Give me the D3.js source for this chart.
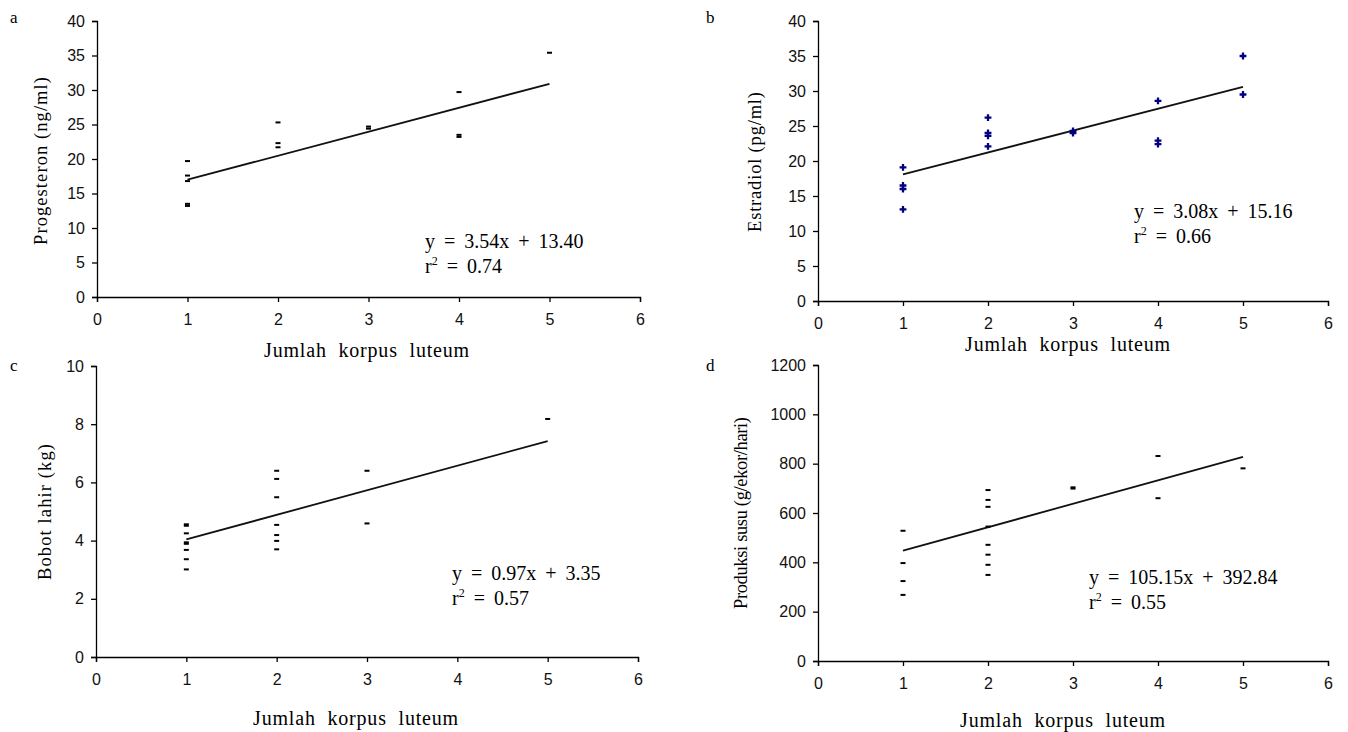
<!DOCTYPE html>
<html>
<head>
<meta charset="utf-8">
<script src="https://cdn.jsdelivr.net/npm/d3@7"></script>
<style>
  body { margin: 0; background: #fff; }
  svg text { font-family: "Liberation Serif", "Times New Roman", serif; fill: #000; }
  .tick-label { font-family: "Liberation Sans", sans-serif; font-size: 16px; fill: #111; }
</style>
</head>
<body>
<div id="chart"></div>
<script>
// x axis is shared by all four panels
const korpusTicks = [0, 1, 2, 3, 4, 5, 6];

// a: progesteron (ng/ml)
const progX = [1, 1, 1, 1, 1, 2, 2, 2, 3, 3, 4, 4, 4, 5];
const progY = [19.7, 17.6, 16.8, 13.2, 13.5, 25.3, 22.3, 21.7, 24.4, 24.7, 29.7, 23.2, 23.5, 35.4];
const progTicks = [0, 5, 10, 15, 20, 25, 30, 35, 40];

// b: estradiol (pg/ml)
const estrX = [1, 1, 1, 1, 2, 2, 2, 2, 3, 3, 4, 4, 4, 5, 5];
const estrY = [19.1, 16.5, 16.0, 13.1, 26.2, 24.0, 23.6, 22.1, 24.3, 24.0, 28.6, 22.9, 22.4, 35.0, 29.5];
const estrTicks = [0, 5, 10, 15, 20, 25, 30, 35, 40];

// c: bobot lahir (kg)
const bobotX = [1, 1, 1, 1, 1, 1, 1, 1, 2, 2, 2, 2, 2, 2, 2, 3, 3, 5];
const bobotY = [4.56, 4.51, 4.25, 3.94, 3.89, 3.68, 3.36, 3.01, 6.40, 6.12, 5.49, 4.54, 4.19, 3.99, 3.70, 6.40, 4.59, 8.18];
const bobotTicks = [0, 2, 4, 6, 8, 10];

// d: produksi susu (g/ekor/hari)
const susuX = [1, 1, 1, 1, 2, 2, 2, 2, 2, 2, 2, 2, 3, 3, 4, 4, 5];
const susuY = [528, 397, 324, 268, 693, 653, 625, 545, 471, 431, 390, 349, 704, 699, 831, 660, 781];
const susuTicks = [0, 200, 400, 600, 800, 1000, 1200];

// trend line ends (at 1 and 5 corpora lutea) as drawn in the figure
const trendAt1 = [17.0, 18.1, 4.04, 447];
const trendAt5 = [30.9, 30.6, 7.42, 828];

// regression equations printed on the figure
const eqTexts = ["y = 3.54x + 13.40", "y = 3.08x + 15.16", "y = 0.97x + 3.35", "y = 105.15x + 392.84"];
const r2Texts = ["0.74", "0.66", "0.57", "0.55"];

const panelLetters = ["a", "b", "c", "d"];
const yTitles = ["Progesteron (ng/ml)", "Estradiol (pg/ml)", "Bobot lahir (kg)", "Produksi susu (g/ekor/hari)"];
const xTitle = "Jumlah korpus luteum";

const width = 1348, height = 732;
const svg = d3.select("#chart").append("svg")
    .attr("width", width)
    .attr("height", height);

// layout of each panel
const panels = [
  { xs: progX, ys: progY, ticks: progTicks, box: [97, 640, 21, 297], letter: [10, 23],
    ytitle: [47, 161, 168], xtitle: [367, 357], eq: [425, 248], marker: "dash" },
  { xs: estrX, ys: estrY, ticks: estrTicks, box: [818, 1328, 21, 301], letter: [706, 23],
    ytitle: [761, 162, 140], xtitle: [1068, 351], eq: [1134, 218], marker: "cross" },
  { xs: bobotX, ys: bobotY, ticks: bobotTicks, box: [96, 638, 366, 657], letter: [10, 371],
    ytitle: [51, 512, 136], xtitle: [356, 725], eq: [452, 580], marker: "dash" },
  { xs: susuX, ys: susuY, ticks: susuTicks, box: [818, 1328, 365, 661], letter: [706, 371],
    ytitle: [747, 513, 192], xtitle: [1063, 727], eq: [1089, 584], marker: "dash" }
];

panels.forEach((p, i) => {
  const [left, right, top, bottom] = p.box;
  const g = svg.append("g");

  const x = d3.scaleLinear().domain([0, 6]).range([left, right]);
  const y = d3.scaleLinear().domain([0, d3.max(p.ticks)]).range([bottom, top]);

  // axes
  const xAxis = g.append("g")
      .attr("transform", `translate(0,${bottom})`)
      .call(d3.axisBottom(x).tickValues(korpusTicks).tickSize(5).tickFormat(d3.format("d")));
  const yAxis = g.append("g")
      .attr("transform", `translate(${left},0)`)
      .call(d3.axisLeft(y).tickValues(p.ticks).tickSize(5).tickFormat(d3.format("d")));
  [xAxis, yAxis].forEach(ax => {
    ax.select(".domain").attr("stroke", "#000").attr("stroke-width", 1.3);
    ax.selectAll(".tick line").attr("stroke", "#000").attr("stroke-width", 1.3);
    ax.selectAll(".tick text").attr("class", "tick-label").attr("font-size", null).attr("font-family", null);
  });
  xAxis.selectAll(".tick text").attr("y", 17).attr("dy", "0.71em");
  yAxis.selectAll(".tick text").attr("x", -12);

  // trend line
  g.append("path")
      .datum([[1, trendAt1[i]], [5, trendAt5[i]]])
      .attr("fill", "none")
      .attr("stroke", "#111")
      .attr("stroke-width", 1.8)
      .attr("d", d3.line().x(d => x(d[0])).y(d => y(d[1])));

  // data points
  const pts = p.xs.map((v, k) => [v, p.ys[k]]);
  if (p.marker === "cross") {
    g.selectAll("path.pt").data(pts).join("path")
        .attr("class", "pt")
        .attr("transform", d => `translate(${x(d[0])},${y(d[1])})`)
        .attr("d", d3.symbol(d3.symbolCross, 26))
        .attr("fill", "#000080");
  } else {
    g.selectAll("rect.pt").data(pts).join("rect")
        .attr("class", "pt")
        .attr("x", d => x(d[0]) - 2.5)
        .attr("y", d => y(d[1]) - 1)
        .attr("width", 5)
        .attr("height", 2)
        .attr("fill", "#000");
  }

  // texts
  g.append("text")
      .attr("x", p.letter[0]).attr("y", p.letter[1])
      .attr("font-size", 17)
      .text(panelLetters[i]);
  g.append("text")
      .attr("transform", `translate(${p.ytitle[0]},${p.ytitle[1]}) rotate(-90)`)
      .attr("text-anchor", "middle")
      .attr("font-size", 18.5)
      .attr("textLength", p.ytitle[2])
      .attr("lengthAdjust", "spacing")
      .text(yTitles[i]);
  g.append("text")
      .attr("x", p.xtitle[0]).attr("y", p.xtitle[1])
      .attr("text-anchor", "middle")
      .attr("font-size", 20)
      .attr("letter-spacing", 0.8)
      .attr("word-spacing", 6)
      .text(xTitle);
  g.append("text")
      .attr("x", p.eq[0]).attr("y", p.eq[1])
      .attr("font-size", 20)
      .attr("word-spacing", 4)
      .text(eqTexts[i]);
  const r2 = g.append("text")
      .attr("x", p.eq[0]).attr("y", p.eq[1] + 25)
      .attr("font-size", 20)
      .attr("word-spacing", 4);
  r2.append("tspan").text("r");
  r2.append("tspan").attr("font-size", 12).attr("dy", -8).text("2");
  r2.append("tspan").attr("dy", 8).text(" = " + r2Texts[i]);
});
</script>
</body>
</html>
